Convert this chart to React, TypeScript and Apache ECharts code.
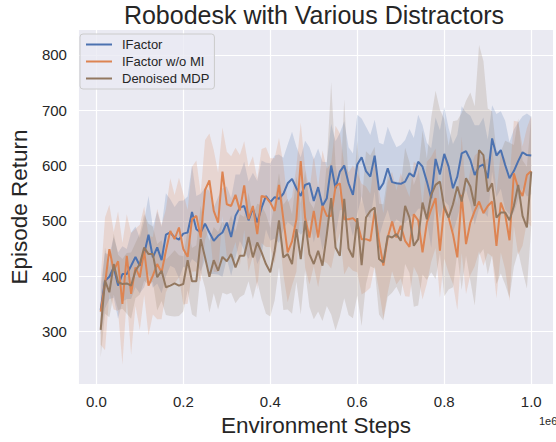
import React, { useEffect, useRef } from 'react';
import * as echarts from 'echarts';

// x positions (environment steps)
const steps: number[] = Array.from({ length: 100 }, (_, i) => (i + 1) * 10000);

const seriesNames = ['IFactor', 'IFactor w/o MI', 'Denoised MDP'];

const ifactor = [339,392,399,416,383,404,404,419,435,419, 440,475,434,452,429,475,479,470,466,477,
  479,516,485,479,495,479,464,473,479,497, 471,509,524,527,501,522,497,524,545,534,
  543,540,549,568,576,559,545,565,568,536, 561,527,541,600,559,589,600,568,547,602,
  615,590,580,618,556,568,595,570,568,567, 571,586,580,607,598,571,541,612,584,621,
  598,559,580,622,626,610,583,598,602,577, 649,618,628,601,577,590,608,624,619,618];

const ifactorNoMI = [336,386,449,410,427,350,437,368,416,398, 446,383,401,422,407,446,482,467,488,449,
  435,503,509,470,556,573,518,497,589,530, 527,547,519,564,503,527,476,545,543,533,
  518,565,503,443,463,503,608,506,470,518, 470,527,509,509,562,568,503,503,505,497,
  467,467,464,518,464,419,470,499,470,491, 464,453,512,501,443,497,521,541,446,527,
  506,476,434,547,458,497,518,535,514,527, 535,455,533,512,465,586,559,545,583,590];

const denoised = [303,392,371,422,389,386,387,383,410,422, 452,440,440,398,410,380,383,387,383,386,
  429,391,391,467,434,399,429,410,435,427, 440,416,437,437,471,434,461,443,422,407,
  446,501,434,440,422,485,431,500,440,422, 446,419,476,541,452,437,540,450,434,505,
  420,506,518,524,431,425,473,470,476,464, 527,506,455,467,533,503,547,565,571,524,
  506,530,562,535,577,562,527,628,619,553, 568,506,515,515,501,527,565,509,488,589];

// half-width of the shaded bands
const ifactorSpread = [45,50,40,55,60,50,45,60,55,50, 60,70,55,65,60,75,60,55,70,60,
  65,85,60,70,65,75,60,70,80,65, 70,75,60,80,70,65,75,85,60,70,
  75,80,65,70,85,75,70,80,65,75, 70,80,65,75,85,70,80,65,75,90,
  70,80,75,65,85,70,75,80,65,70, 75,80,70,85,75,70,90,75,80,85,
  70,80,75,85,70,80,90,75,85,70, 60,75,70,80,65,75,70,65,75,70];

const ifactorNoMISpread = [60,120,80,70,90,110,75,110,70,95, 80,90,70,100,85,75,95,80,90,100,
  85,95,100,80,90,85,110,90,80,95, 90,85,100,80,95,90,100,85,90,80,
  95,85,100,90,80,95,70,90,85,100, 90,100,85,95,110,90,100,85,95,90,
  100,95,85,100,90,95,100,90,85,95, 100,90,95,100,85,110,95,90,85,95,
  100,90,95,105,90,95,100,90,95,85, 100,95,90,100,110,95,120,90,85,100];

const denoisedSpread = [50,60,45,55,50,45,55,60,50,55, 60,55,50,60,55,50,55,60,55,50,
  55,60,65,60,55,65,60,70,65,60, 70,65,75,70,80,75,70,85,90,80,
  90,85,95,100,90,95,100,90,95,100, 110,100,130,210,150,110,180,120,110,140,
  110,120,100,110,100,105,110,100,95,100, 105,100,110,120,130,110,140,170,130,160,
  130,150,120,160,140,170,180,190,170,150, 130,120,110,130,140,110,120,100,110,100];

const FONT = '"Liberation Sans", Arial, Helvetica, sans-serif';
const LINE_COLORS = ['#4c72b0', '#dd8452', '#937860'];
const BAND_COLORS = ['rgba(76,114,176,0.2)', 'rgba(221,132,82,0.2)', 'rgba(147,120,96,0.2)'];
const TEXT = '#262626';

export default function App() {
  const ref = useRef<HTMLDivElement>(null);
  useEffect(() => {
    if (!ref.current) return;
    const chart = echarts.init(ref.current, null, { renderer: 'svg' });
    const defs = [
      { name: seriesNames[0], mean: ifactor, spread: ifactorSpread },
      { name: seriesNames[1], mean: ifactorNoMI, spread: ifactorNoMISpread },
      { name: seriesNames[2], mean: denoised, spread: denoisedSpread },
    ];
    const xColors = Array.from({ length: 20 }, (_, k) => (k === 4 ? '#ffffff' : 'rgba(255,255,255,0)'));
    const yColors = Array.from({ length: 20 }, (_, k) => (k === 19 ? '#ffffff' : 'rgba(255,255,255,0)'));

    const bands = defs.map((s, si) => ({
      type: 'custom',
      name: s.name + ' band',
      silent: true,
      data: [[steps[0], s.mean[0]]],
      renderItem: (_params: any, api: any) => {
        const pts: number[][] = [];
        for (let i = 0; i < steps.length; i++) pts.push(api.coord([steps[i], s.mean[i] + s.spread[i]]));
        for (let i = steps.length - 1; i >= 0; i--) pts.push(api.coord([steps[i], s.mean[i] - s.spread[i]]));
        return { type: 'polygon', shape: { points: pts }, style: { fill: BAND_COLORS[si], stroke: 'none' } };
      },
      z: 2,
    }));
    const lines = defs.map((s, si) => ({
      type: 'line',
      name: s.name,
      data: steps.map((x, i) => [x, s.mean[i]]),
      symbol: 'none',
      showSymbol: false,
      lineStyle: { width: 2, color: LINE_COLORS[si] },
      itemStyle: { color: LINE_COLORS[si] },
      z: 3,
    }));

    chart.setOption({
      animation: false,
      backgroundColor: '#ffffff',
      grid: { left: 75, right: 0, top: 30, bottom: 54, show: true, backgroundColor: '#eaeaf2', borderWidth: 0 },
      xAxis: {
        type: 'value', min: -40000, max: 1050000, interval: 10000,
        name: 'Environment Steps', nameLocation: 'middle', nameGap: 27,
        nameTextStyle: { fontSize: 22.5, color: TEXT, fontFamily: FONT },
        axisLine: { show: false }, axisTick: { show: false },
        axisLabel: {
          formatter: (v: number) => (Math.round(v) % 200000 === 0 ? (v / 1e6).toFixed(1) : ''),
          color: TEXT, fontSize: 15, fontFamily: FONT, margin: 10,
        },
        splitLine: { show: true, lineStyle: { color: xColors, width: 1.2 } },
      },
      yAxis: {
        type: 'value', min: 205, max: 845, interval: 5,
        name: 'Episode Return', nameLocation: 'middle', nameGap: 43,
        nameTextStyle: { fontSize: 22.5, color: TEXT, fontFamily: FONT },
        axisLine: { show: false }, axisTick: { show: false },
        axisLabel: {
          formatter: (v: number) => (Math.round(v) % 100 === 0 ? String(Math.round(v)) : ''),
          color: TEXT, fontSize: 15, fontFamily: FONT, margin: 12,
        },
        splitLine: { show: true, lineStyle: { color: yColors, width: 1.2 } },
      },
      legend: {
        data: seriesNames, orient: 'vertical', left: 80, top: 34,
        padding: [4, 5, 4, 5], itemGap: 4, itemWidth: 26, itemHeight: 14,
        itemStyle: { opacity: 0 },
        lineStyle: { width: 2 },
        textStyle: { fontSize: 13, color: TEXT, fontFamily: FONT, padding: [0, 0, 0, 5] },
        backgroundColor: 'rgba(234,234,242,0.8)', borderColor: '#cccccc', borderWidth: 1, borderRadius: 3,
      },
      graphic: [
        {
          type: 'text', x: 314, y: 15,
          style: { text: 'Robodesk with Various Distractors', fontSize: 25, fontFamily: FONT, fill: TEXT, align: 'center', verticalAlign: 'middle' },
        },
        {
          type: 'text', x: 539, y: 421,
          style: { text: '1e6', fontSize: 11, fontFamily: FONT, fill: TEXT, align: 'left', verticalAlign: 'middle' },
        },
      ],
      series: [...bands, ...lines],
    });
    return () => chart.dispose();
  }, []);
  return <div ref={ref} style={{ position: 'fixed', left: 0, top: 0, width: 556, height: 442 }} />;
}
